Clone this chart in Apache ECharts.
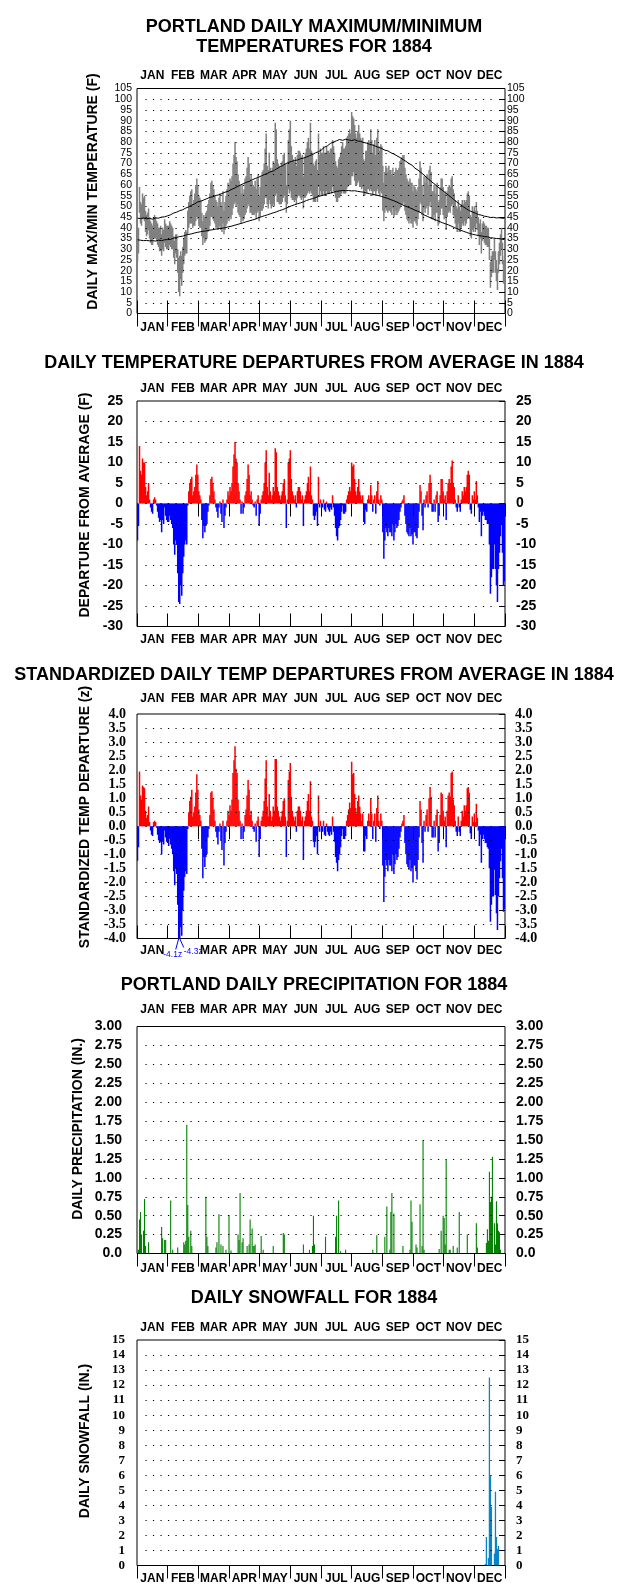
<!DOCTYPE html>
<html><head><meta charset="utf-8">
<script src="https://cdn.jsdelivr.net/npm/echarts@6/dist/echarts.min.js"></script>
<style>html,body{margin:0;padding:0;background:#fff}#c{width:630px;height:1590px}</style>
</head><body><div id="c"></div>
<script>
// ---------------- DATA ----------------
const months = ['JAN','FEB','MAR','APR','MAY','JUN','JUL','AUG','SEP','OCT','NOV','DEC'];

// daily maximum temperature 1884 (F), Jan 1 .. Dec 31
const tmax = [
37,40,59,52,51,56,54,55,48,46,47,49,45,43,42,41,45,46,45,43,42,40,40,41,37,40,39,44,42,41,41,
41,43,42,41,40,36,34,37,37,30,26,27,29,27,31,35,38,39,38,48,52,55,57,58,51,53,56,60,63,
60,55,54,53,47,43,46,45,47,48,51,53,56,61,62,60,58,55,53,52,50,54,56,52,50,57,48,52,55,58,61,
60,63,62,64,70,74,80,73,71,65,62,60,56,60,56,58,63,64,68,73,70,63,65,62,60,59,62,58,63,65,
55,59,64,66,67,70,77,84,69,67,75,68,66,68,71,70,89,86,72,70,69,68,70,71,74,75,70,60,70,81,86,
90,78,74,72,71,73,69,74,76,76,75,73,74,64,73,75,77,80,82,77,89,76,75,70,69,71,72,67,84,74,
77,75,75,78,75,75,78,76,76,75,77,77,81,78,75,71,69,68,72,73,75,78,80,77,77,78,82,83,84,86,84,
94,92,91,88,84,82,85,88,84,82,81,82,72,71,76,76,80,81,80,86,81,75,79,81,74,82,86,78,76,79,78,
69,61,66,69,68,66,69,67,67,65,68,64,66,68,67,67,68,71,72,73,74,74,68,65,63,62,61,63,61,61,
57,60,59,58,57,59,63,71,68,60,55,64,61,64,65,60,67,69,66,57,57,60,56,60,61,52,53,59,63,63,59,
56,57,50,57,59,60,59,63,64,58,56,53,50,49,53,50,48,51,53,51,53,52,53,56,57,55,46,45,50,48,
50,48,52,48,45,42,44,38,42,43,42,41,41,40,40,35,24,27,29,29,35,29,25,21,29,33,37,40,33,25,27];

// daily minimum temperature 1884 (F)
const tmin = [
24,28,47,42,41,44,44,43,38,36,37,39,35,33,32,32,35,35,35,34,32,31,29,29,27,30,29,33,31,30,30,
30,32,31,30,30,26,23,28,26,19,10,8,16,13,19,23,27,28,28,37,40,42,42,42,40,41,41,43,45,
44,41,40,40,36,32,35,33,34,35,38,39,41,45,45,44,43,42,40,40,39,40,41,39,38,42,37,39,41,42,44,
43,45,44,46,49,51,52,50,51,47,46,45,42,44,43,44,46,47,49,51,50,47,47,46,46,46,47,44,47,48,
43,45,48,48,49,51,54,54,51,49,53,51,49,50,51,50,55,56,52,52,51,51,51,52,54,55,52,47,51,58,56,
57,54,53,53,52,53,51,54,55,55,54,53,54,49,54,54,55,56,57,56,57,56,55,52,52,52,54,52,59,55,
57,55,55,57,55,55,57,56,56,56,57,56,59,57,56,54,52,52,54,54,55,56,57,56,56,56,58,59,60,60,60,
64,64,66,62,60,60,61,62,59,59,58,59,55,55,57,56,58,58,57,58,57,55,57,57,55,57,58,56,55,57,56,
48,43,47,49,48,47,48,48,47,46,49,45,46,48,46,47,48,49,50,51,51,52,48,46,44,43,42,44,42,42,
40,43,43,42,41,44,47,52,51,46,43,49,47,49,50,46,50,52,50,44,44,46,43,47,47,41,42,46,49,49,46,
44,45,39,45,47,48,47,50,51,46,45,42,40,38,42,38,38,40,42,41,43,41,42,44,45,44,36,35,39,38,
40,38,42,39,36,32,35,28,34,35,33,32,32,31,31,25,12,17,19,19,25,19,15,11,19,23,27,30,23,14,14];

// day-of-year positions of the normal max/min curves
const normDays = [0,3,6,9,12,15,18,21,24,27,30,33,36,39,42,45,48,51,54,57,60,63,66,69,72,75,78,81,84,87,90,93,96,99,102,105,108,111,114,117,120,123,126,129,132,135,138,141,144,147,150,153,156,159,162,165,168,171,174,177,180,183,186,189,192,195,198,201,204,207,210,213,216,219,222,225,228,231,234,237,240,243,246,249,252,255,258,261,264,267,270,273,276,279,282,285,288,291,294,297,300,303,306,309,312,315,318,321,324,327,330,333,336,339,342,345,348,351,354,357,360,363,365];
const normMax = [44.5,44.3,44.6,44.2,44.4,44.0,44.6,44.5,45.0,45.1,45.6,46.1,46.9,47.3,48.0,48.4,49.2,49.8,50.6,51.2,52.1,52.4,53.0,53.6,54.2,54.5,55.1,55.4,56.0,56.6,57.0,57.8,58.4,59.1,59.9,60.5,61.2,61.6,62.4,63.0,63.5,64.2,64.8,65.3,66.1,66.5,67.4,68.2,68.9,69.8,70.5,70.9,71.4,71.6,72.2,72.5,73.0,73.6,74.2,75.0,75.5,76.4,77.6,78.3,79.4,80.0,80.6,81.2,80.8,81.3,81.0,80.7,81.1,80.5,80.3,79.8,79.5,78.9,78.6,78.0,77.5,77.0,76.2,75.9,75.0,74.4,73.6,72.8,71.9,71.0,70.0,69.2,67.8,66.9,65.8,64.6,63.3,62.1,60.9,59.8,58.5,57.6,56.4,55.3,54.2,53.0,51.9,50.8,49.8,48.9,48.0,47.4,46.8,46.2,45.9,45.4,45.2,44.8,44.9,44.6,44.7,44.4,44.5];
const normMin = [34.4,34.2,34.0,34.1,33.9,34.0,33.8,34.2,34.0,34.4,34.5,34.6,35.2,35.5,35.9,36.1,36.6,36.9,37.2,37.6,37.9,38.2,38.4,38.6,38.9,39.1,39.4,39.6,39.8,40.0,40.4,40.7,41.1,41.5,41.9,42.3,42.8,43.2,43.6,44.0,44.6,45.1,45.6,46.0,46.5,47.0,47.4,48.0,48.4,49.0,49.6,50.2,50.7,51.2,51.6,52.1,52.7,53.2,53.6,54.1,54.6,55.0,55.4,55.9,56.2,56.6,57.0,57.2,57.4,57.3,57.4,57.2,57.3,57.0,56.8,56.6,56.2,55.9,55.6,55.3,55.0,54.6,54.1,53.7,53.1,52.6,52.0,51.3,50.6,50.0,49.5,48.9,48.2,47.7,47.0,46.0,45.4,44.7,44.1,43.6,43.0,42.4,41.9,41.4,40.8,40.1,39.6,38.9,38.4,37.9,37.4,37.0,36.7,36.4,36.2,35.9,35.8,35.4,35.2,35.0,34.9,34.6,34.5];

// daily departure from average (F)
const departF = [
-9,-5.5,14,8,7,11,10,10,4,2,3,5,1,-1,-2,-2.5,1,1.5,1,-0.5,-2,-3.5,-4.5,-4,-7,-4,-5,-1,-3,-4,-4.5,
-4.5,-3,-4,-5,-6,-10,-12.5,-9,-10,-17,-24,-24.5,-20,-22.5,-17,-13,-10,-9,-10,-0.5,3,5,6,6.5,2,3,4,7,9.5,
7,3,2,1,-4,-8.5,-5.5,-7,-5.5,-5,-2,-0.5,2,6,6.5,5,3,1,-1,-2,-3.5,-1,0.5,-2.5,-4.5,1,-6,-3,-1,1,3,
2,4,3,5,9,12,15,11,10,5,3,1,-2.5,0.5,-2.5,-1,2,3,6,9.5,7,2,3,1,-0.5,-1,0.5,-3,1,2,
-5.5,-2.5,1,2,3,5,10,13,4,2,7.5,3,1,2,4,3,13.5,12.5,4,3,2,1,2,3,5,6,2,-6,1,10,11,
13,6,3,2,1,2,-1,3,4,4,3,1,2,-5.5,1,2,3,5,6.5,3,9,2,1,-3,-4,-3,-2,-5.5,6.5,-1,
1,-1,-1,1,-1.5,-2,0.5,-1,-1.5,-2,-1,-1.5,2,-1,-3,-6,-8,-9,-6,-5.5,-4,-2,-0.5,-2.5,-2.5,-2,1,2,3,4,3,
10,9,9.5,6,3,2,4,6,3,2,1,2,-4.5,-5,-1.5,-2,1,2,1,4.5,2,-2,1,2,-2.5,3,5.5,1,-0.5,2,1,
-7,-13.5,-9,-6,-7,-8,-6,-7,-7,-8,-5,-9,-7,-5,-6,-5.5,-4,-2,-1,0.5,1,2,-3,-5,-7,-7.5,-8,-6,-8,-7.5,
-10,-7,-7,-8,-8.5,-6,-2,4.5,3,-3,-6.5,1,-1,2,3,-1,5,7,5,-2,-2,1,-2,2,3,-4.5,-3,2,6,6,3,
1,2,-4,3,5,6,5,9,10.5,5,4,1,-1,-2,2,-1,-2,1,3,2,4,3,4,7,8,7,-1.5,-2.5,2,1,
3,1,5.5,2,-1,-4.5,-2,-8,-3,-2,-3,-4,-4,-5,-5,-10,-22,-18,-16,-16,-10,-16,-20,-24,-16,-12,-8,-5,-12,-20,-19];

// standardized daily departure (z)
const departZ = [
-1.23,-0.75,1.95,1.1,0.95,1.45,1.4,1.35,0.55,0.3,0.4,0.7,0.15,-0.15,-0.3,-0.35,0.15,0.2,0.15,-0.05,-0.3,-0.5,-0.6,-0.55,-1.0,-0.55,-0.65,-0.15,-0.4,-0.55,-0.6,
-0.7,-0.45,-0.65,-0.8,-1.0,-1.6,-2.1,-1.5,-1.7,-2.8,-4.1,-4.3,-3.6,-3.9,-3.0,-2.3,-1.8,-1.6,-1.7,-0.1,0.5,0.9,1.05,1.3,0.35,0.5,0.7,1.2,1.85,
1.3,0.6,0.4,0.2,-0.8,-1.85,-1.1,-1.45,-1.1,-1.0,-0.4,-0.1,0.4,1.2,1.25,1.0,0.6,0.2,-0.2,-0.4,-0.65,-0.2,0.1,-0.5,-0.85,0.2,-1.4,-0.6,-0.2,0.2,0.55,
0.4,0.75,0.55,0.95,1.9,2.35,2.85,2.05,1.9,0.95,0.55,0.2,-0.45,0.1,-0.45,-0.2,0.4,0.6,1.1,1.65,1.3,0.4,0.55,0.2,-0.1,-0.2,0.1,-0.55,0.2,0.35,
-1.1,-0.45,0.2,0.35,0.55,0.9,1.7,2.35,0.7,0.35,1.15,0.55,0.2,0.35,0.7,0.55,2.4,2.4,0.7,0.55,0.35,0.2,0.35,0.55,0.9,1.0,0.35,-1.1,0.2,1.65,1.95,
2.25,1.05,0.55,0.35,0.2,0.35,-0.2,0.55,0.7,0.7,0.55,0.2,0.35,-1.2,0.2,0.35,0.55,0.9,1.15,0.55,1.6,0.35,0.2,-0.55,-0.75,-0.55,-0.35,-1.0,1.1,-0.2,
0.2,-0.2,-0.2,0.2,-0.3,-0.35,0.1,-0.2,-0.3,-0.35,-0.2,-0.3,0.35,-0.2,-0.55,-1.1,-1.3,-1.6,-1.2,-1.0,-0.75,-0.35,-0.1,-0.45,-0.45,-0.35,0.2,0.4,0.6,0.85,0.65,
2.3,1.85,1.9,1.15,0.65,0.45,0.9,1.1,0.7,0.45,0.2,0.45,-0.9,-0.9,-0.35,-0.45,0.2,0.45,0.2,1.0,0.45,-0.45,0.2,0.45,-0.55,0.65,1.1,0.2,-0.1,0.45,0.2,
-1.4,-2.7,-1.8,-1.2,-1.4,-1.6,-1.2,-1.4,-1.4,-1.6,-1.0,-1.7,-1.35,-1.0,-1.2,-1.1,-0.8,-0.4,-0.2,0.1,0.2,0.4,-0.6,-1.0,-1.35,-1.45,-1.55,-1.2,-1.6,-1.5,
-2.0,-1.4,-1.4,-1.6,-1.9,-1.2,-0.4,0.9,0.6,-0.6,-1.3,0.2,-0.2,0.4,0.6,-0.2,1.0,1.4,1.05,-0.4,-0.4,0.2,-0.4,0.4,0.6,-0.9,-0.6,0.4,1.2,1.15,0.55,
0.2,0.35,-0.75,0.55,1.1,1.2,1.05,1.9,1.95,0.95,0.75,0.2,-0.2,-0.35,0.35,-0.2,-0.35,0.2,0.55,0.35,0.75,0.55,0.75,1.35,1.4,1.2,-0.25,-0.45,0.35,0.15,
0.45,0.15,0.8,0.3,-0.15,-0.7,-0.3,-1.3,-0.45,-0.3,-0.45,-0.6,-0.6,-0.75,-0.8,-1.5,-3.4,-2.8,-2.5,-2.5,-1.55,-2.45,-3.1,-3.7,-2.5,-1.85,-1.25,-0.8,-1.85,-3.05,-2.95];

// daily precipitation (in.), only days with measurable amounts (day index 0 = Jan 1)
const precipDays = [1,2,3,4,6,7,8,11,24,25,27,28,33,35,40,46,47,48,49,50,51,53,54,68,69,70,78,79,81,83,85,88,91,93,100,101,102,104,105,109,111,112,114,115,116,117,123,125,135,145,146,165,171,174,175,176,187,197,198,200,202,207,234,238,246,248,251,252,253,255,264,271,272,273,277,278,281,283,284,285,300,302,304,305,306,307,310,311,314,318,320,328,337,338,347,348,349,350,351,352,353,355,356,357,358,359,360,361];
const precipIn = [0.05,0.45,0.55,0.25,0.3,0.72,0.1,0.15,0.35,0.2,0.18,0.18,0.7,0.05,0.08,0.15,0.12,0.17,1.7,0.64,0.22,0.3,0.1,0.75,0.22,0.1,0.08,0.15,0.52,0.12,0.1,0.05,0.51,0.04,0.25,0.18,0.8,0.15,0.2,0.1,0.12,0.45,0.33,0.1,0.1,0.12,0.23,0.05,0.1,0.27,0.25,0.12,0.05,0.1,0.5,0.12,0.22,0.22,0.5,0.7,0.03,0.05,0.05,0.24,0.22,0.62,0.05,0.55,0.8,0.53,0.1,0.05,0.7,0.42,0.12,0.08,0.65,0.1,1.5,0.05,0.06,0.3,0.5,0.47,0.12,1.24,0.05,0.05,0.1,0.08,0.55,0.25,0.4,0.08,0.14,0.32,0.17,1.08,0.68,0.75,1.28,0.4,0.12,0.69,0.4,0.3,0.28,0.05];

// daily snowfall (in.)
const snowDays = [346,347,349,350,351,352,355,356,357,358,359];
const snowIn = [0.1,1.9,0.5,12.5,6.0,3.9,0.8,4.9,1.9,1.1,1.3];

// axis ranges
const tempAxis = {min: 0, max: 105, step: 5};
const depAxis = {min: -30, max: 25, step: 5};
const zAxis = {min: -4, max: 4, step: 0.5};
const precAxis = {min: 0, max: 3, step: 0.25};
const snowAxis = {min: 0, max: 15, step: 1};
// temperature tick labels drawn on a second, overlapping label layer (tight spacing)
const tempLabelsB = [5, 100];

// ---------------- LAYOUT / STYLE ----------------
const SANS = '"Liberation Sans", Arial, sans-serif';
const SERIF = '"Liberation Serif", "Times New Roman", serif';
const GL = 137, GW = 368;

const panels = [
  {top: 88.5, height: 225, ax: tempAxis, fmt: v => String(v), lf: {fontSize: 10.5, fontWeight: 'normal', fontFamily: SANS}, lm: 5, rm: 2, tm: 7, bm: 8, outTicks: false, hideBottom: [], layerB: tempLabelsB,
   title: ['PORTLAND DAILY MAXIMUM/MINIMUM', 'TEMPERATURES FOR 1884'], titleY: [26.7, 46.7], yname: 'DAILY MAX/MIN TEMPERATURE (F)', ynx: 93.5, yny: 191.5},
  {top: 401, height: 225.5, ax: depAxis, fmt: v => String(v), lf: {fontSize: 14, fontWeight: 'bold', fontFamily: SANS}, lm: 14, rm: 11, tm: 6, bm: 7.5, outTicks: false, hideBottom: [], layerB: null,
   title: ['DAILY TEMPERATURE DEPARTURES FROM AVERAGE IN 1884'], titleY: [363], yname: 'DEPARTURE FROM AVERAGE (F)', ynx: 85, yny: 505},
  {top: 714, height: 224.5, ax: zAxis, fmt: v => v.toFixed(1), lf: {fontSize: 14, fontWeight: 'bold', fontFamily: SERIF}, lm: 11, rm: 10, tm: 9, bm: 6.5, outTicks: false, hideBottom: ['FEB'], layerB: null,
   title: ['STANDARDIZED DAILY TEMP DEPARTURES FROM AVERAGE IN 1884'], titleY: [675], yname: 'STANDARDIZED TEMP DEPARTURE (z)', ynx: 84.7, yny: 817},
  {top: 1026.5, height: 227, ax: precAxis, fmt: v => (v === 0 ? '0.0' : v.toFixed(2)), lf: {fontSize: 14, fontWeight: 'bold', fontFamily: SANS}, lm: 15, rm: 11, tm: 10.5, bm: 9.5, outTicks: true, hideBottom: [], layerB: null,
   title: ['PORTLAND DAILY PRECIPITATION FOR 1884'], titleY: [985], yname: 'DAILY PRECIPITATION (IN.)', ynx: 78.6, yny: 1129},
  {top: 1340, height: 225.5, ax: snowAxis, fmt: v => String(v), lf: {fontSize: 13, fontWeight: 'bold', fontFamily: SERIF}, lm: 12, rm: 11, tm: 6, bm: 7.5, outTicks: true, hideBottom: [], layerB: null,
   title: ['DAILY SNOWFALL FOR 1884'], titleY: [1298], yname: 'DAILY SNOWFALL (IN.)', ynx: 84.7, yny: 1441}
];

const grid = [], xAxis = [], yAxis = [], extraY = [], series = [], graphic = [];

panels.forEach((p, g) => {
  grid.push({left: GL, width: GW, top: p.top, height: p.height, show: true, borderColor: '#000', borderWidth: 1,
             backgroundColor: 'transparent', containLabel: false, outerBoundsMode: 'none'});
  xAxis.push({gridIndex: g, type: 'value', min: 0, max: 366, show: false});
  const monthLabel = {interval: 0, color: '#000', fontSize: 12, fontWeight: 'bold', fontFamily: SANS, hideOverlap: false};
  xAxis.push({gridIndex: g, type: 'category', position: 'top', data: months, boundaryGap: true,
              axisLine: {show: false}, splitLine: {show: false},
              axisTick: {show: true, inside: true, length: 13, interval: 0, lineStyle: {color: '#000', width: 1}},
              axisLabel: Object.assign({margin: p.tm}, monthLabel)});
  xAxis.push({gridIndex: g, type: 'category', position: 'bottom', data: months, boundaryGap: true,
              axisLine: {show: false}, splitLine: {show: false},
              axisTick: {show: true, inside: !p.outTicks, length: p.outTicks ? 10 : 13, interval: 0, lineStyle: {color: '#000', width: 1}},
              axisLabel: Object.assign({margin: p.bm, formatter: m => (p.hideBottom.indexOf(m) >= 0 ? '' : m)}, monthLabel)});

  // tick values of this panel
  const ticks = [];
  const nSteps = Math.round((p.ax.max - p.ax.min) / p.ax.step);
  for (let k = 0; k <= nSteps; k++) ticks.push(+(p.ax.min + k * p.ax.step).toFixed(4));
  const mainLabels = p.layerB ? ticks.filter(v => p.layerB.indexOf(v) < 0) : null;

  const yBase = {gridIndex: g, type: 'value', min: p.ax.min, max: p.ax.max, interval: p.ax.step,
                 axisLine: {show: false}, splitLine: {show: false}};
  const lab = (m, vals) => Object.assign({margin: m, color: '#000', formatter: p.fmt, showMinLabel: true, showMaxLabel: true, hideOverlap: false},
                                         vals ? {customValues: vals} : {}, p.lf);
  yAxis.push(Object.assign({}, yBase, {position: 'left', axisTick: {show: false}, axisLabel: lab(p.lm, mainLabels)}));
  yAxis.push(Object.assign({}, yBase, {position: 'right', axisTick: {show: true, inside: true, length: 6, lineStyle: {color: '#000'}}, axisLabel: lab(p.rm, mainLabels)}));
  if (p.layerB) {
    extraY.push(Object.assign({}, yBase, {position: 'left', axisTick: {show: false}, axisLabel: lab(p.lm, p.layerB)}));
    extraY.push(Object.assign({}, yBase, {position: 'right', axisTick: {show: false}, axisLabel: lab(p.rm, p.layerB)}));
  }

  // dotted horizontal guide rows at every inner tick value
  const rows = ticks.slice(1, -1);
  series.push({type: 'line', xAxisIndex: 3 * g, yAxisIndex: 2 * g, data: [], silent: true, z: 1,
    markLine: {silent: true, symbol: ['none', 'none'], animation: false, label: {show: false},
      lineStyle: {type: [1.2, 6.3], color: '#000', width: 1.1, opacity: 1},
      emphasis: {disabled: true},
      data: rows.map(v => [{coord: [8.4, v]}, {coord: [355, v]}])}});

  p.title.forEach((t, i) => graphic.push({type: 'text', x: 314, y: p.titleY[i], silent: true,
    style: {text: t, fill: '#000', fontSize: 18, fontWeight: 'bold', fontFamily: SANS, align: 'center', verticalAlign: 'middle'}}));
  graphic.push({type: 'text', x: p.ynx, y: p.yny, rotation: Math.PI / 2, silent: true,
    style: {text: p.yname, fill: '#000', fontSize: 14, fontWeight: 'bold', fontFamily: SANS, align: 'center', verticalAlign: 'middle'}});
});
extraY.forEach(a => yAxis.push(a));

// panel 1: daily range bars + normal curves
series.push({type: 'custom', xAxisIndex: 0, yAxisIndex: 0, clip: true, z: 2,
  data: tmax.map((v, i) => [i, tmin[i], v]),
  renderItem: (params, api) => {
    const d = api.value(0);
    const a = api.coord([d, api.value(2)]), b = api.coord([d + 1, api.value(1)]);
    return {type: 'rect', shape: {x: a[0] - 0.25, y: a[1], width: b[0] - a[0] + 0.5, height: b[1] - a[1]}, style: {fill: '#808080'}};
  }});
[normMax, normMin].forEach(arr => series.push({type: 'line', xAxisIndex: 0, yAxisIndex: 0, z: 3, showSymbol: false, symbol: 'none',
  data: normDays.map((d, i) => [d + 0.5, arr[i]]), lineStyle: {color: '#000', width: 1}, silent: true}));

// panels 2 and 3: departure bars
function depRender(params, api) {
  const d = api.value(0), v = api.value(1);
  if (!v) return null;
  const a = api.coord([d, Math.max(v, 0)]), b = api.coord([d + 1, Math.min(v, 0)]);
  return {type: 'rect', shape: {x: a[0] - 0.25, y: a[1], width: b[0] - a[0] + 0.5, height: b[1] - a[1]},
          style: {fill: v > 0 ? '#ff0000' : '#0000ff'}};
}
series.push({type: 'custom', xAxisIndex: 3, yAxisIndex: 2, clip: true, z: 2, data: departF.map((v, i) => [i, v]), renderItem: depRender});
series.push({type: 'custom', xAxisIndex: 6, yAxisIndex: 4, clip: true, z: 2, data: departZ.map((v, i) => [i, v]), renderItem: depRender});

// off-scale annotations for the standardized panel
const offScale = departZ.map((v, i) => [i, v]).filter(r => r[1] < zAxis.min);
series.push({type: 'custom', xAxisIndex: 6, yAxisIndex: 4, clip: false, z: 5, silent: true,
  data: offScale.map((r, k) => [r[0], r[1], k]),
  renderItem: (params, api) => {
    const d = api.value(0), v = api.value(1), k = api.value(2);
    const base = api.coord([d + 0.5, zAxis.min]);
    const first = k === 0;
    const end = first ? [base[0] - 3, base[1] + 11] : [base[0] + 4, base[1] + 9];
    return {type: 'group', children: [
      {type: 'line', shape: {x1: base[0], y1: base[1], x2: end[0], y2: end[1]}, style: {stroke: '#0000ff', lineWidth: 1}},
      {type: 'text', x: first ? base[0] - 6 : base[0] + 4, y: first ? base[1] + 16 : base[1] + 13,
       style: {text: v.toFixed(1) + 'z', fill: '#0000ff', fontSize: 8.5, fontFamily: SANS,
        align: first ? 'center' : 'left', verticalAlign: 'middle'}}
    ]};
  }});

// panels 4 and 5: thin daily bars
function thinBar(color, w) {
  return (params, api) => {
    const d = api.value(0), v = api.value(1);
    const a = api.coord([d + 0.5, v]), b = api.coord([d + 0.5, 0]);
    return {type: 'rect', shape: {x: a[0] - w / 2, y: a[1], width: w, height: b[1] - a[1]}, style: {fill: color}};
  };
}
series.push({type: 'custom', xAxisIndex: 9, yAxisIndex: 6, clip: true, z: 2, data: precipDays.map((d, i) => [d, precipIn[i]]), renderItem: thinBar('#008000', 1.1)});
series.push({type: 'custom', xAxisIndex: 12, yAxisIndex: 8, clip: true, z: 2, data: snowDays.map((d, i) => [d, snowIn[i]]), renderItem: thinBar('#0a84c8', 1.3)});

const chart = echarts.init(document.getElementById('c'), null, {renderer: 'canvas'});
chart.setOption({animation: false, backgroundColor: '#fff', textStyle: {fontFamily: SANS},
  grid, xAxis, yAxis, series, graphic});
</script></body></html>
